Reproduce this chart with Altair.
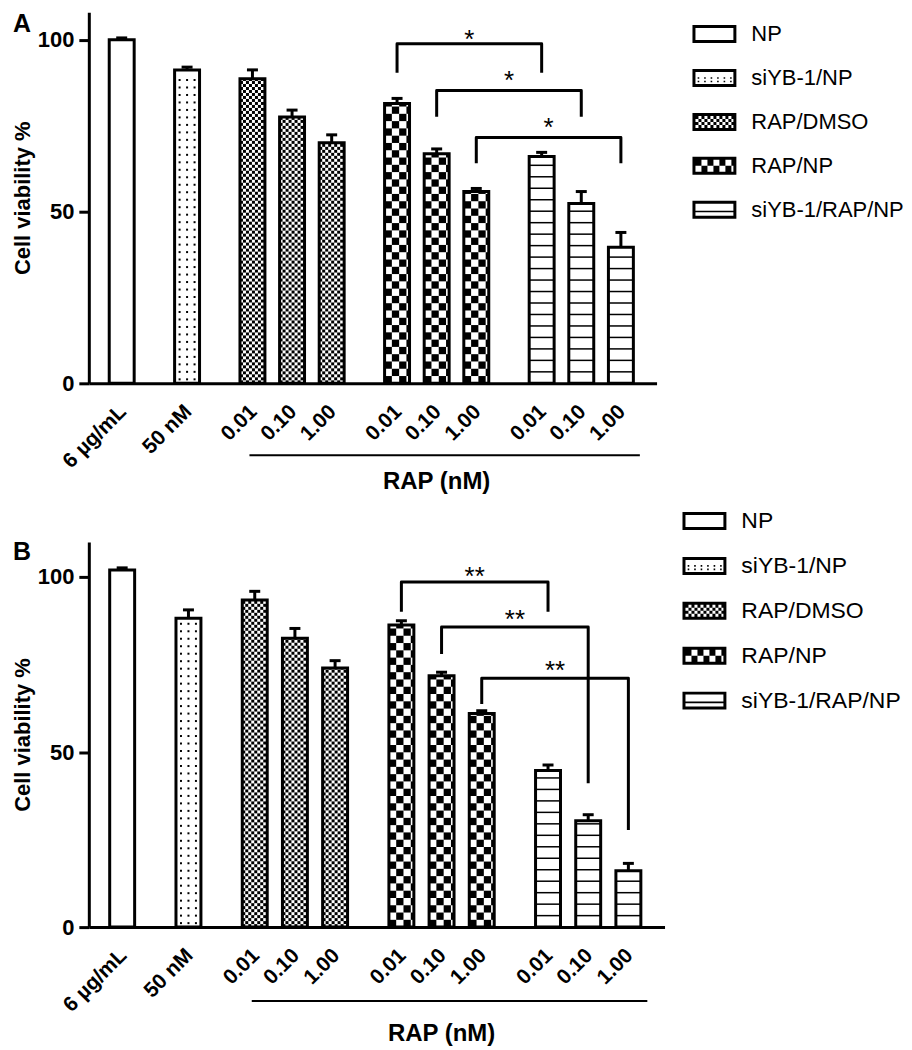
import altair as alt
import pandas as pd
import numpy as np

alt.data_transformers.disable_max_rows()

FONT = "Liberation Sans"

# ---------------- data ----------------
series = ["NP", "siYB-1/NP", "RAP/DMSO", "RAP/NP", "siYB-1/RAP/NP"]
bar_series = ["NP", "siYB-1/NP", "RAP/DMSO", "RAP/DMSO", "RAP/DMSO",
              "RAP/NP", "RAP/NP", "RAP/NP",
              "siYB-1/RAP/NP", "siYB-1/RAP/NP", "siYB-1/RAP/NP"]
bar_labels = ["6 µg/mL", "50 nM", "0.01", "0.10", "1.00",
              "0.01", "0.10", "1.00", "0.01", "0.10", "1.00"]

a_mean = [100.0, 91.2, 88.6, 77.5, 70.0, 81.4, 66.8, 55.8, 66.0, 52.3, 39.6]
a_sem = [0.5, 0.8, 2.6, 2.0, 2.3, 1.5, 1.4, 0.9, 1.2, 3.5, 4.3]
b_mean = [102.0, 88.2, 93.4, 82.5, 74.0, 86.3, 71.8, 61.0, 44.7, 30.4, 16.1]
b_sem = [0.6, 2.4, 2.5, 2.8, 2.1, 1.2, 1.0, 0.8, 1.6, 1.7, 2.1]

# significance brackets (bar indices) and their levels
bracket_left = [5, 6, 7]
bracket_right = [8, 9, 10]
a_br_top = [98.8, 85.2, 71.5]
a_br_left_end = [90.4, 77.6, 64.0]
a_br_right_end = [90.4, 77.6, 64.0]
a_star_y = [102.0, 90.0, 76.2]
a_star = "*"
b_br_top = [98.6, 85.7, 71.1]
b_br_left_end = [90.1, 78.0, 63.7]
b_br_right_end = [90.1, 41.1, 27.7]
b_star_y = [102.0, 89.6, 75.1]
b_star = "**"

y_ticks = [0, 50, 100]
rap_title = "RAP (nM)"

# ---------------- layout / style ----------------
GROUP_GAP = 0.65
X_MIN, X_MAX = -0.83, 13.5
HALF_PX = 12.5
PATTERN = {"siYB-1/NP": ("dots", 7.5), "RAP/DMSO": ("checker", 3.0),
           "RAP/NP": ("checker", 7.3), "siYB-1/RAP/NP": ("stripes", 11.5)}

groups = []
g, prev = -1, None
for s in bar_series:
    if s != prev:
        g += 1
        prev = s
    groups.append(g)
pos = [i + GROUP_GAP * gi for i, gi in enumerate(groups)]


def _rect(x0, y0, x1, y1, hole=False):
    if hole:
        pts = [(x0, y0), (x0, y1), (x1, y1), (x1, y0)]
    else:
        pts = [(x0, y0), (x1, y0), (x1, y1), (x0, y1)]
    return "M" + "L".join(f"{x:.3f},{y:.3f}" for x, y in pts) + "Z"


def legend_path(kind):
    u = 22.0  # px per unit
    hw, hh, t = 1.0, 9.0 / u, 3.0 / u
    p = _rect(-hw, -hh, hw, hh) + _rect(-hw + t, -hh + t, hw - t, hh - t, hole=True)
    ix0, ix1, iy0, iy1 = -hw + t, hw - t, -hh + t, hh - t
    if kind == "dots":
        d = 1.6 / u
        for yy in (iy1 - 2.5 / u, 0.0):
            xx = ix0 + 3 / u
            while xx < ix1 - 1 / u:
                p += _rect(xx - d / 2, yy - d / 2, xx + d / 2, yy + d / 2)
                xx += 6.5 / u
    elif kind in ("fine", "coarse"):
        c = (3.0 if kind == "fine" else 6.0) / u
        r = 0
        yy = iy0
        while yy < iy1 - 1e-6:
            q = 0
            xx = ix0
            while xx < ix1 - 1e-6:
                if (r + q) % 2 == 0:
                    p += _rect(xx, yy, min(xx + c, ix1), min(yy + c, iy1))
                xx += c
                q += 1
            yy += c
            r += 1
    elif kind == "stripe":
        p += _rect(ix0, 1.0 / u, ix1, 2.6 / u)
    return p


legend_paths = [legend_path(k) for k in ["none", "dots", "fine", "coarse", "stripe"]]


def panel(mean, sem, br_top, br_lend, br_rend, star_y, star_txt, W, H, y_max, letter,
          letter_y, leg_x, leg_y, leg_font, rap_line_dy, rap_text_dy):
    ux = (X_MAX - X_MIN) / W
    uy = y_max / H
    hw = HALF_PX * ux
    bars = pd.DataFrame({
        "pos": pos, "x1": [p - hw for p in pos], "x2": [p + hw for p in pos],
        "base": 0.0, "mean": mean, "top": [m + s for m, s in zip(mean, sem)],
        "series": bar_series, "label": bar_labels})

    cells, stripes = [], []
    for p, m, s in zip(pos, mean, bar_series):
        if s not in PATTERN:
            continue
        kind, c = PATTERN[s]
        left = p - hw
        hpx = m / uy
        wpx = 2 * HALF_PX
        if kind == "checker":
            ncol = int(np.ceil(wpx / c))
            nrow = int(np.ceil(hpx / c))
            for r in range(nrow):
                for q in range(ncol):
                    if (r + q) % 2:
                        continue
                    cells.append({"x1": left + q * c * ux,
                                  "x2": left + min((q + 1) * c, wpx) * ux,
                                  "y1": r * c * uy,
                                  "y2": min((r + 1) * c * uy, m)})
        elif kind == "dots":
            yy = 4.0
            while yy < hpx - 3:
                for off in (-7.5, 0.0, 7.5):
                    cells.append({"x1": p + (off - 1) * ux, "x2": p + (off + 1) * ux,
                                  "y1": (yy - 1) * uy, "y2": (yy + 1) * uy})
                yy += c
        elif kind == "stripes":
            yy = c
            while yy < hpx - 3:
                stripes.append({"x1": left, "x2": p + hw, "y": yy * uy})
                yy += c
    cells = pd.DataFrame(cells)
    stripes = pd.DataFrame(stripes)

    xs = alt.Scale(domain=[X_MIN, X_MAX], nice=False, zero=False)
    ys = alt.Scale(domain=[0, y_max], nice=False, zero=True)

    yaxis = alt.Axis(values=y_ticks, title="Cell viability %", grid=False,
                     domainColor="black", domainWidth=3, tickColor="black",
                     tickWidth=3, tickSize=10, labelFont=FONT, labelFontSize=22,
                     labelFontWeight="bold", labelColor="black", labelPadding=5,
                     titleFont=FONT, titleFontSize=22, titleFontWeight="bold",
                     titleColor="black", titlePadding=3)
    xaxis = alt.Axis(labels=False, ticks=False, title=None, grid=False,
                     domainColor="black", domainWidth=3)

    def X(f):
        return alt.X(f, type="quantitative", scale=xs, axis=xaxis)

    def Y(f):
        return alt.Y(f, type="quantitative", scale=ys, axis=yaxis)

    fill = alt.Chart(bars).mark_rect(fill="white", strokeWidth=0).encode(
        x=X("x1"), x2="x2", y=Y("mean"), y2="base")

    pat = alt.Chart(cells).mark_rect(color="black", strokeWidth=0).encode(
        x=X("x1"), x2="x2", y=Y("y1"), y2="y2")

    stp = alt.Chart(stripes).mark_rule(color="black", strokeWidth=1.5).encode(
        x=X("x1"), x2="x2", y=Y("y"))

    outline = alt.Chart(bars).mark_rect(fillOpacity=0, stroke="black", strokeWidth=3).encode(
        x=X("x1"), x2="x2", y=Y("mean"), y2="base")

    err = alt.Chart(bars).mark_rule(color="black", strokeWidth=3).encode(
        x=X("pos"), y=Y("mean"), y2="top")
    cap = alt.Chart(bars).mark_rule(color="black", strokeWidth=3,
                                    xOffset=-5.5, x2Offset=5.5).encode(
        x=X("pos"), x2="pos", y=Y("top"))

    brows = []
    for b, (l, r) in enumerate(zip(bracket_left, bracket_right)):
        brows += [{"b": b, "k": 0, "x": pos[l], "y": br_lend[b]},
                  {"b": b, "k": 1, "x": pos[l], "y": br_top[b]},
                  {"b": b, "k": 2, "x": pos[r], "y": br_top[b]},
                  {"b": b, "k": 3, "x": pos[r], "y": br_rend[b]}]
    brk = alt.Chart(pd.DataFrame(brows)).mark_line(
        color="black", strokeWidth=3, strokeJoin="round").encode(
        x=X("x"), y=Y("y"), detail="b:N", order="k:Q")

    sdf = pd.DataFrame({"x": [(pos[l] + pos[r]) / 2 for l, r in zip(bracket_left, bracket_right)],
                        "y": star_y, "t": [star_txt] * len(star_y)})
    stars = alt.Chart(sdf).mark_text(font=FONT, fontSize=26, color="black", dy=7).encode(
        x=X("x"), y=Y("y"), text="t:N")

    xl = alt.Chart(bars).mark_text(font=FONT, fontSize=21, fontWeight="bold", color="black",
                                   angle=315, align="right", baseline="middle",
                                   dx=-17, dy=19).encode(
        x=X("pos"), y=Y("base"), text="label:N")

    first, last = pos[2], pos[-1]
    rdf = pd.DataFrame({"x": [first], "x2": [last], "mid": [(first + last) / 2], "t": [rap_title]})
    rline = alt.Chart(rdf).mark_rule(color="black", strokeWidth=2, xOffset=-3, x2Offset=19).encode(
        x=X("x"), x2="x2", y=alt.value(H + rap_line_dy))
    rtext = alt.Chart(rdf).mark_text(font=FONT, fontSize=24, fontWeight="bold", color="black").encode(
        x=X("mid"), y=alt.value(H + rap_text_dy), text="t:N")

    let = alt.Chart(pd.DataFrame({"t": [letter]})).mark_text(
        font=FONT, fontSize=25, fontWeight="bold", color="black",
        align="left", baseline="top").encode(
        x=alt.value(-76), y=alt.value(letter_y), text="t:N")

    leg = alt.Chart(bars).mark_point(filled=True, opacity=0, color="black").encode(
        x=X("pos"), y=Y("mean"),
        shape=alt.Shape("series:N", scale=alt.Scale(domain=series, range=legend_paths),
                        legend=alt.Legend(title=None, orient="none", legendX=leg_x, legendY=leg_y,
                                          symbolSize=1936, symbolStrokeWidth=0,
                                          symbolFillColor="black", symbolOpacity=1,
                                          labelFont=FONT, labelFontSize=leg_font,
                                          labelColor="black", labelOffset=15,
                                          labelLimit=400, rowPadding=11, padding=0)))

    return alt.layer(fill, pat, stp, outline, err, cap, brk, stars, xl,
                     rline, rtext, let, leg).properties(width=W, height=H)


A = panel(a_mean, a_sem, a_br_top, a_br_left_end, a_br_right_end, a_star_y, a_star,
          569, 372, 108, "A", 0, 605, 0, 22, 72, 99)
B = panel(b_mean, b_sem, b_br_top, b_br_left_end, b_br_right_end, b_star_y, b_star,
          577, 386, 110, "B", -2, 595, -43, 23, 74, 107)

chart = alt.vconcat(A, B, spacing=5).resolve_scale(
    x="independent", y="independent", shape="independent").resolve_legend(
    shape="independent").properties(
    padding={"left": 3, "top": 3, "right": 0, "bottom": 0}).configure_view(strokeWidth=0)

chart.save("out.html", embed_options={"renderer": "svg", "actions": False})
